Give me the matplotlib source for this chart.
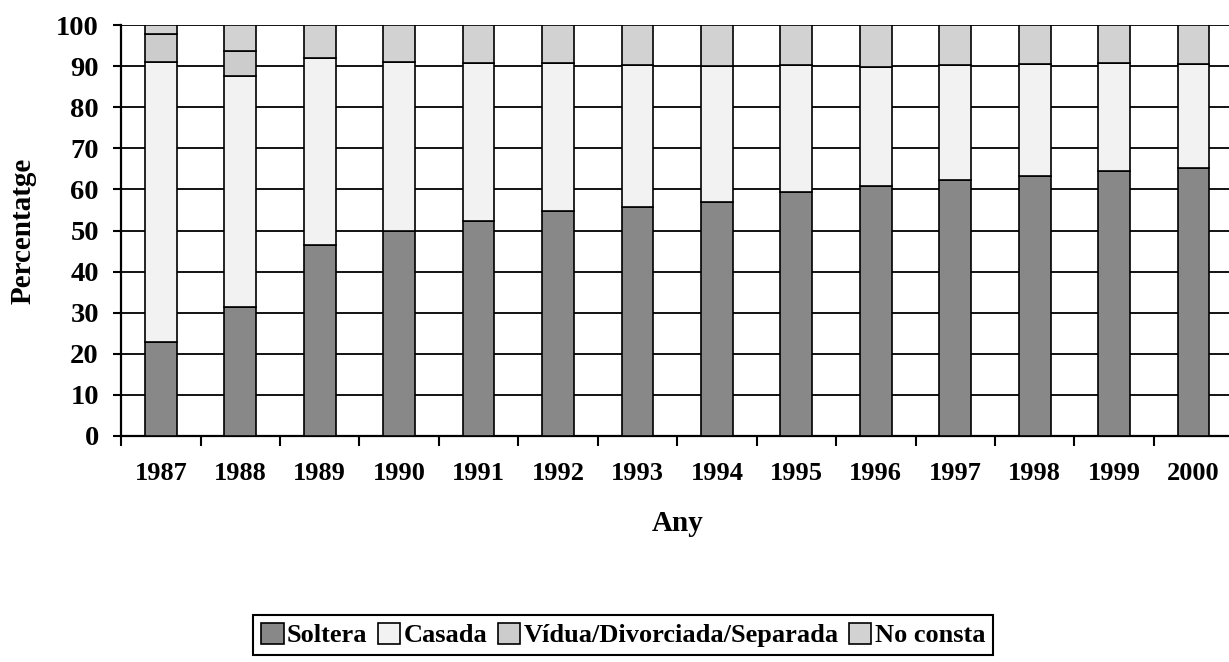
import matplotlib
matplotlib.use("Agg")
import matplotlib.pyplot as plt
import numpy as np

years = ["1987", "1988", "1989", "1990", "1991", "1992", "1993", "1994",
         "1995", "1996", "1997", "1998", "1999", "2000"]
soltera = [22.9, 31.5, 46.4, 49.9, 52.3, 54.8, 55.6, 56.9, 59.3, 60.9, 62.2, 63.3, 64.6, 65.3]
casada = [68.0, 56.1, 45.6, 41.2, 38.5, 35.9, 34.7, 33.2, 31.0, 29.0, 28.1, 27.1, 26.1, 25.1]
vidua = [7.0, 6.1, 0, 0, 0, 0, 0, 0, 0, 0, 0, 0, 0, 0]
no_consta = [2.1, 6.3, 8.0, 8.9, 9.2, 9.3, 9.7, 9.9, 9.7, 10.1, 9.7, 9.6, 9.3, 9.6]

series_names = ["Soltera", "Casada", "Vídua/Divorciada/Separada", "No consta"]
colors = ["#888888", "#F2F2F2", "#CCCCCC", "#D2D2D2"]

plt.rcParams['font.family'] = ['Liberation Serif', 'DejaVu Serif']
plt.rcParams['font.weight'] = 'bold'

fig = plt.figure(figsize=(12.29, 6.62), dpi=100)
ax = fig.add_axes([0.0985, 0.3414, 0.905, 0.6208])

x = np.arange(len(years))
data = [soltera, casada, vidua, no_consta]
bottom = np.zeros(len(years))
handles = []
for vals, name, c in zip(data, series_names, colors):
    vals = np.array(vals, dtype=float)
    b = ax.bar(x, vals, bottom=bottom, width=0.4, color=c, edgecolor='black',
               linewidth=1.2, label=name, zorder=3)
    handles.append(b)
    bottom += vals

ax.set_xlim(-0.5, len(years) - 0.5)
ax.set_ylim(0, 100)
ax.set_yticks(np.arange(0, 101, 10))
ax.yaxis.grid(True, color='black', linewidth=1.3, zorder=0)
ax.set_axisbelow(True)

ax.set_xticks(x)
ax.set_xticklabels(years, fontsize=19, fontweight='bold')
ax.set_xticks(np.arange(-0.5, len(years), 1.0), minor=True)
ax.tick_params(axis='x', which='major', length=0, pad=19)
ax.tick_params(axis='x', which='minor', length=7, width=1.5, direction='out')
ax.tick_params(axis='y', length=6, width=1.5, labelsize=20.5, pad=10)
for lab in ax.get_yticklabels():
    lab.set_fontweight('bold')

for s in ['top', 'right']:
    ax.spines[s].set_visible(False)
ax.spines['left'].set_linewidth(1.6)
ax.spines['bottom'].set_linewidth(1.6)

ax.set_ylabel("Percentatge", fontsize=21, fontweight='bold', labelpad=14)
ax.set_xlabel("Any", fontsize=21, fontweight='bold', labelpad=18)

leg = fig.legend(handles=handles, labels=series_names, loc='center',
                 bbox_to_anchor=(0.507, 0.041), ncol=4, frameon=True,
                 fancybox=False, edgecolor='black', framealpha=1,
                 prop={'family': 'Liberation Serif', 'weight': 'bold', 'size': 19},
                 handlelength=0.85, handleheight=0.85, handletextpad=0.12,
                 columnspacing=0.4, borderpad=0.3, borderaxespad=0)
leg.get_frame().set_linewidth(1.5)

fig.savefig("out.png", dpi=100)
